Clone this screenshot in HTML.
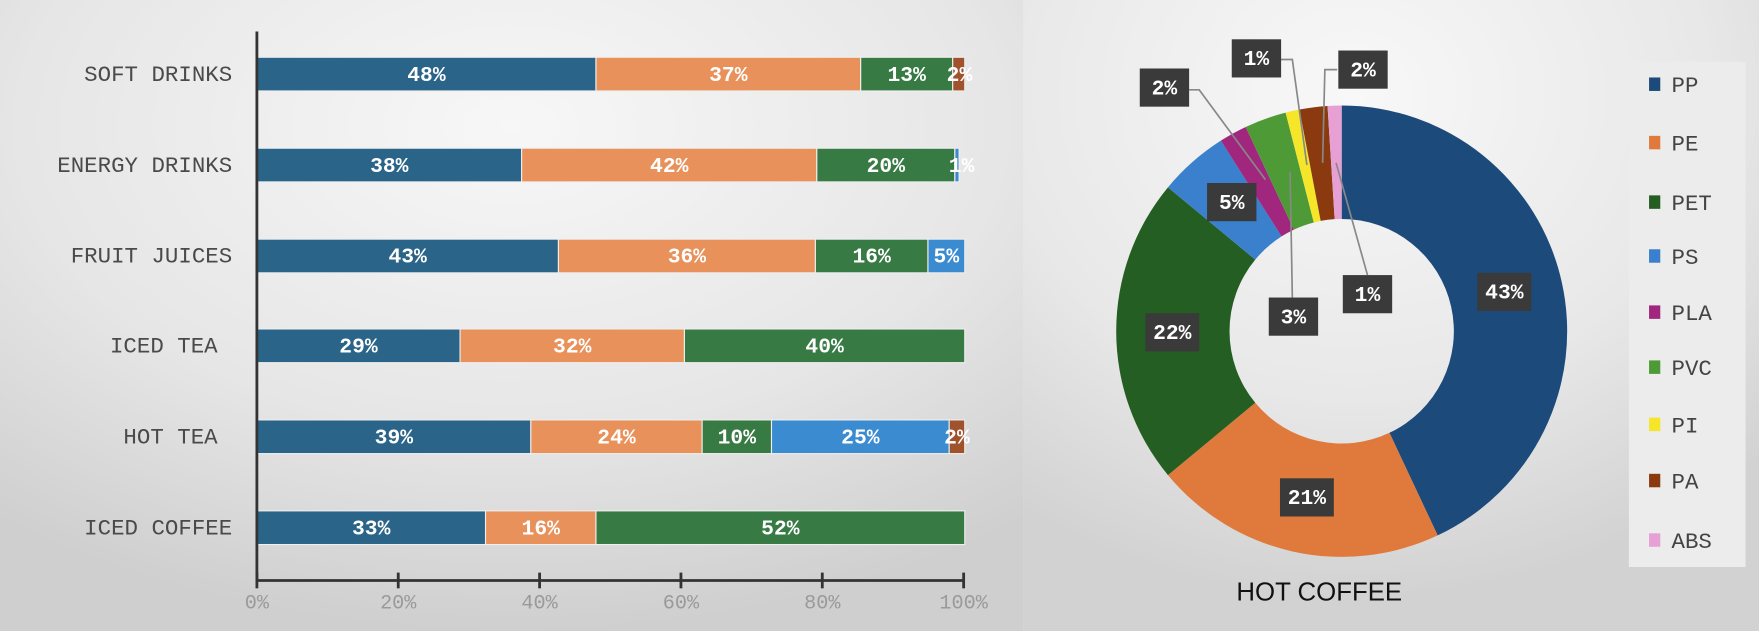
<!DOCTYPE html>
<html><head><meta charset="utf-8"><style>
html,body{margin:0;padding:0;background:#e6e6e6}
svg{display:block}
</style></head><body>
<svg id="s" width="1759" height="631" viewBox="0 0 1568 562" preserveAspectRatio="none" xmlns="http://www.w3.org/2000/svg">
<defs>
<radialGradient id="g1" cx="0.5" cy="0.2" r="0.8"><stop offset="0" stop-color="#f7f7f7"/><stop offset="0.6" stop-color="#e6e6e6"/><stop offset="1" stop-color="#cfcfcf"/></radialGradient>
<radialGradient id="g2" cx="0.45" cy="0.15" r="0.8"><stop offset="0" stop-color="#f8f8f8"/><stop offset="0.6" stop-color="#e8e8e8"/><stop offset="1" stop-color="#d2d2d2"/></radialGradient>
</defs>
<rect x="0" y="0" width="912" height="562" fill="url(#g1)"/>
<rect x="912" y="0" width="656" height="562" fill="url(#g2)"/>
<g id="bars"></g>
<g stroke="#333" stroke-width="2.5">
<line x1="229" y1="28" x2="229" y2="517"/>
<line x1="229" y1="517" x2="860" y2="517"/>
<line x1="229" y1="510" x2="229" y2="524"/><line x1="355" y1="510" x2="355" y2="524"/><line x1="481" y1="510" x2="481" y2="524"/><line x1="607" y1="510" x2="607" y2="524"/><line x1="733" y1="510" x2="733" y2="524"/><line x1="859" y1="510" x2="859" y2="524"/>
</g>
<g font-family="Liberation Mono, monospace" font-size="18" fill="#9a9a9a" text-anchor="middle">
<text x="229" y="542">0%</text><text x="355" y="542">20%</text><text x="481" y="542">40%</text><text x="607" y="542">60%</text><text x="733" y="542">80%</text><text x="859" y="542">100%</text>
</g>
<g font-family="Liberation Mono, monospace" font-size="20" fill="#4a4a4a" text-anchor="end">
<text x="207" y="72">SOFT DRINKS</text><text x="207" y="153">ENERGY DRINKS</text><text x="207" y="234">FRUIT JUICES</text><text x="194" y="314">ICED TEA</text><text x="194" y="395">HOT TEA</text><text x="207" y="476">ICED COFFEE</text>
</g>
<g id="donut"></g>
<g stroke="#888" stroke-width="1.5" fill="none">
<polyline points="1060,80 1069,80 1128,160"/>
<polyline points="1141,53 1152,53 1165,147"/>
<polyline points="1192,62 1181,62 1179,145"/>
<polyline points="1152,265 1150,153"/>
<polyline points="1219,245 1191,145"/>
</g>
<g id="lbls" font-family="Liberation Mono, monospace" font-size="19" font-weight="bold" fill="#fff" text-anchor="middle"></g>
<rect x="1452" y="55" width="104" height="450" fill="#ececec"/>
<g id="leg" font-family="Liberation Mono, monospace" font-size="20" fill="#444"></g>
<text x="1176" y="535" font-family="Liberation Sans, sans-serif" font-size="23" fill="#111" text-anchor="middle">HOT COFFEE</text>
</svg>
<script>
var NS="http://www.w3.org/2000/svg";
function el(p,t,a,txt){var e=document.createElementNS(NS,t);for(var k in a)e.setAttribute(k,a[k]);if(txt)e.textContent=txt;document.getElementById(p).appendChild(e);return e;}
var C=["#2a6489","#e8915a","#387a44","#3b8bd0","#a0522d"];
var rows=[
[66,[[0,47.9,0,"48%"],[47.9,85.3,1,"37%"],[85.3,98.3,2,"13%"],[98.3,100,4,"2%"]]],
[147,[[0,37.4,0,"38%"],[37.4,79.1,1,"42%"],[79.1,98.6,2,"20%"],[98.6,99.2,3,"1%"]]],
[228,[[0,42.6,0,"43%"],[42.6,78.9,1,"36%"],[78.9,94.8,2,"16%"],[94.8,100,3,"5%"]]],
[308,[[0,28.7,0,"29%"],[28.7,60.4,1,"32%"],[60.4,100,2,"40%"]]],
[389,[[0,38.7,0,"39%"],[38.7,62.9,1,"24%"],[62.9,72.7,2,"10%"],[72.7,97.8,3,"25%"],[97.8,100,4,"2%"]]],
[470,[[0,32.3,0,"33%"],[32.3,47.9,1,"16%"],[47.9,100,2,"52%"]]]];
rows.forEach(function(r){var y=r[0];r[1].forEach(function(s){var x0=229+6.31*s[0],x1=229+6.31*s[1];
el("bars","rect",{x:x0,y:y-15,width:x1-x0,height:30,fill:C[s[2]],stroke:"#eee","stroke-width":1});});
r[1].forEach(function(s){var x0=229+6.31*s[0],x1=229+6.31*s[1];var cx=(x0+x1)/2;if(x1-x0<12)cx=x0+6;
el("bars","text",{x:cx,y:y+6,"font-family":"Liberation Mono, monospace","font-size":19,"font-weight":"bold",fill:"#fff","text-anchor":"middle"},s[3]);});});
var D=[[43,"#1c4a7a","PP"],[21,"#e07a3c","PE"],[22,"#245e22","PET"],[5,"#3a80cc","PS"],[2,"#a0267e","PLA"],[3,"#4e9a36","PVC"],[1,"#f5e62a","PI"],[2,"#8b3a10","PA"],[1,"#e6a0d4","ABS"]];
var cx=1196,cy=295,R=201,r=100,a=-Math.PI/2;
D.forEach(function(d){var b=a+d[0]/100*2*Math.PI;var L=(b-a)>Math.PI?1:0;
function p(rr,t){return (cx+rr*Math.cos(t)).toFixed(2)+","+(cy+rr*Math.sin(t)).toFixed(2);}
el("donut","path",{d:"M"+p(R,a)+"A"+R+","+R+" 0 "+L+" 1 "+p(R,b)+"L"+p(r,b)+"A"+r+","+r+" 0 "+L+" 0 "+p(r,a)+"Z",fill:d[1]});a=b;});
var LB=[[1341,260,"43%"],[1165,443,"21%"],[1045,296,"22%"],[1098,180,"5%"],[1153,282,"3%"],[1219,262,"1%"],[1038,78,"2%"],[1120,52,"1%"],[1215,62,"2%"]];
LB.forEach(function(l){var w=l[2].length==3?48:44;el("lbls","rect",{x:l[0]-w/2,y:l[1]-17,width:w,height:34,fill:"#3a3a3a"});
el("lbls","text",{x:l[0],y:l[1]+6},l[2]);});
var ly=[75,127,180,228,278,327,378,428,481];
D.forEach(function(d,i){el("leg","rect",{x:1470,y:ly[i]-6,width:10,height:12,fill:d[1]});el("leg","text",{x:1490,y:ly[i]+7},d[2]);});
</script>
</body></html>
